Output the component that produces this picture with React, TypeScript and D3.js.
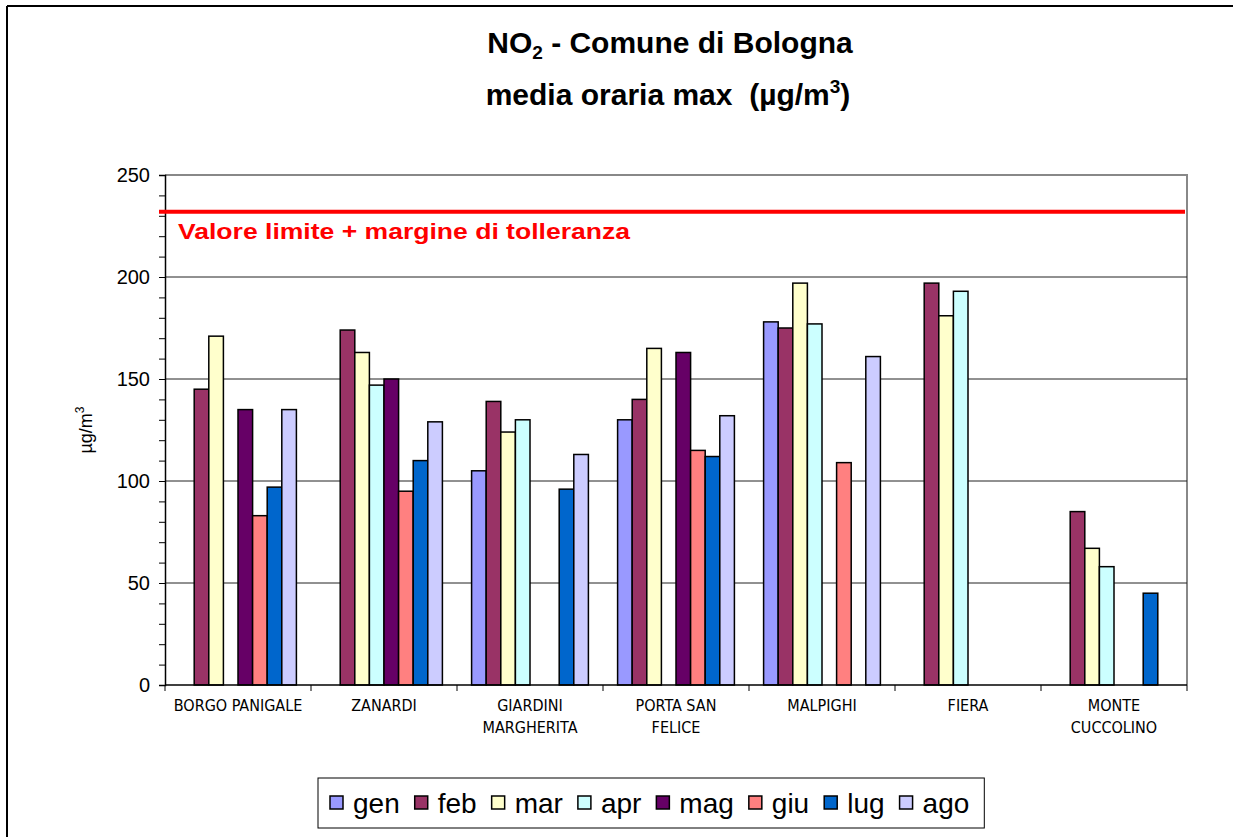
import { useEffect, useRef } from "react"
import * as d3 from "d3"

const stations = ["BORGO PANIGALE", "ZANARDI", "GIARDINI MARGHERITA", "PORTA SAN FELICE", "MALPIGHI", "FIERA", "MONTE CUCCOLINO"]
const stationLines = [["BORGO PANIGALE"], ["ZANARDI"], ["GIARDINI", "MARGHERITA"], ["PORTA SAN", "FELICE"], ["MALPIGHI"], ["FIERA"], ["MONTE", "CUCCOLINO"]]
const months = ["gen", "feb", "mar", "apr", "mag", "giu", "lug", "ago"]
const monthColors = ["#9999FF", "#993366", "#FFFFCC", "#CCFFFF", "#660066", "#FF8080", "#0066CC", "#CCCCFF"]

// one array per month, in station order (null = no data)
const gen = [null, null, 105, 130, 178, null, null]
const feb = [145, 174, 139, 140, 175, 197, 85]
const mar = [171, 163, 124, 165, 197, 181, 67]
const apr = [null, 147, 130, null, 177, 193, 58]
const mag = [135, 150, null, 163, null, null, null]
const giu = [83, 95, null, 115, 109, null, null]
const lug = [97, 110, 96, 112, null, null, 45]
const ago = [135, 129, 113, 132, 161, null, null]

const yTicks = [0, 50, 100, 150, 200, 250]
const limitValue = 232
const limitLabel = "Valore limite + margine di tolleranza"

const FONT = "Arial, 'Liberation Sans', sans-serif"

export default function App() {
  const svgRef = useRef<SVGSVGElement>(null)

  useEffect(() => {
    const svg = d3.select(svgRef.current)
    svg.selectAll("*").remove()

    const series = [gen, feb, mar, apr, mag, giu, lug, ago]
    const left = 165, right = 1187, top = 175, bottom = 685

    // outer frame (top + left only)
    svg.append("line").attr("x1", 7).attr("x2", 1233).attr("y1", 6).attr("y2", 6).attr("stroke", "#000").attr("stroke-width", 2)
    svg.append("line").attr("x1", 7).attr("x2", 7).attr("y1", 6).attr("y2", 837).attr("stroke", "#000").attr("stroke-width", 2)

    // title
    const title = svg.append("text")
      .attr("x", 670).attr("y", 53)
      .attr("text-anchor", "middle")
      .style("font-family", FONT)
      .style("font-weight", "bold")
      .style("font-size", "30px")
    title.append("tspan").text("NO")
    title.append("tspan").attr("dy", 6).style("font-size", "19px").text("2")
    title.append("tspan").attr("dy", -6).text(" - Comune di Bologna")

    const title2 = svg.append("text")
      .attr("x", 668).attr("y", 105)
      .attr("text-anchor", "middle")
      .style("font-family", FONT)
      .style("font-weight", "bold")
      .style("font-size", "30px")
    title2.append("tspan").text("media oraria max\u00a0 (µg/m")
    title2.append("tspan").attr("dy", -12).style("font-size", "19px").text("3")
    title2.append("tspan").attr("dy", 12).text(")")

    const x0 = d3.scaleBand<string>().domain(stations).range([left, right]).padding(0)
    const x1 = d3.scaleBand<string>().domain(months).range([0, x0.bandwidth()]).paddingInner(0).paddingOuter(1)
    const y = d3.scaleLinear().domain([0, 250]).range([bottom, top])

    // plot border (top + right, gray)
    svg.append("path")
      .attr("d", `M${left},${top}H${right}V${bottom}`)
      .attr("fill", "none").attr("stroke", "#888").attr("stroke-width", 2)

    // gridlines
    svg.append("g").selectAll("line")
      .data(yTicks.filter(t => t > 0 && t < 250))
      .join("line")
      .attr("x1", left).attr("x2", right)
      .attr("y1", d => y(d)).attr("y2", d => y(d))
      .attr("stroke", "#222").attr("stroke-width", 1)

    // bars
    series.forEach((vals, si) => {
      svg.append("g").selectAll("rect")
        .data(vals.map((v, i) => ({ v, st: stations[i] })).filter(d => d.v !== null))
        .join("rect")
        .attr("x", d => x0(d.st)! + x1(months[si])!)
        .attr("width", x1.bandwidth())
        .attr("y", d => y(d.v as number))
        .attr("height", d => y(0) - y(d.v as number))
        .attr("fill", monthColors[si])
        .attr("stroke", "#000")
        .attr("stroke-width", 1.5)
    })

    // y axis
    const yAxis = svg.append("g").attr("transform", `translate(${left},0)`)
    yAxis.call(d3.axisLeft(y).tickValues(d3.range(0, 251, 10)).tickSize(6).tickFormat(() => ""))
    yAxis.select(".domain").attr("stroke", "#000").attr("stroke-width", 1.5)
    yAxis.selectAll(".tick line").attr("stroke", "#000")
    svg.append("g").selectAll("text")
      .data(yTicks)
      .join("text")
      .attr("x", 150).attr("y", d => y(d))
      .attr("dy", "0.36em")
      .attr("text-anchor", "end")
      .style("font-family", FONT)
      .style("font-size", "20px")
      .text(d => d)

    const yLab = svg.append("text")
      .attr("transform", "translate(92,430) rotate(-90)")
      .attr("text-anchor", "middle")
      .style("font-family", FONT)
      .style("font-size", "18px")
    yLab.append("tspan").text("µg/m")
    yLab.append("tspan").attr("dy", -8).style("font-size", "12px").text("3")

    // x axis
    svg.append("line").attr("x1", left).attr("x2", right).attr("y1", bottom).attr("y2", bottom).attr("stroke", "#000").attr("stroke-width", 1.5)
    const bounds = stations.map(s => x0(s)!).concat([right])
    svg.append("g").selectAll("line")
      .data(bounds)
      .join("line")
      .attr("x1", d => d).attr("x2", d => d)
      .attr("y1", bottom).attr("y2", bottom + 6)
      .attr("stroke", "#000")
    stationLines.forEach((lines, i) => {
      const cx = x0(stations[i])! + x0.bandwidth() / 2
      svg.append("g").selectAll("text")
        .data(lines)
        .join("text")
        .attr("x", cx).attr("y", (_, j) => 711 + j * 22)
        .attr("text-anchor", "middle")
        .style("font-family", "'Liberation Sans Narrow', 'DejaVu Sans Condensed', Arial, sans-serif")
        .style("font-size", "16px")
        .text(d => d)
    })

    // limit line
    svg.append("line")
      .attr("x1", 159).attr("x2", 1185)
      .attr("y1", y(limitValue)).attr("y2", y(limitValue))
      .attr("stroke", "#FF0000").attr("stroke-width", 4)
    svg.append("text")
      .attr("x", 178).attr("y", 239)
      .attr("fill", "#FF0000")
      .attr("textLength", 452)
      .attr("lengthAdjust", "spacingAndGlyphs")
      .style("font-family", FONT)
      .style("font-weight", "bold")
      .style("font-size", "22px")
      .text(limitLabel)

    // legend
    const legend = svg.append("g")
    const box = legend.append("rect")
      .attr("y", 778).attr("height", 50)
      .attr("fill", "#fff").attr("stroke", "#000").attr("stroke-width", 1)
    let cx = 330
    months.forEach((m, i) => {
      legend.append("rect")
        .attr("x", cx).attr("y", 796).attr("width", 13).attr("height", 13)
        .attr("fill", monthColors[i]).attr("stroke", "#000").attr("stroke-width", 1.5)
      const t = legend.append("text")
        .attr("x", cx + 23).attr("y", 813)
        .style("font-family", FONT)
        .style("font-size", "28px")
        .text(m)
      const w = (t.node() as SVGTextElement).getComputedTextLength()
      cx += 23 + w + 15
    })
    box.attr("x", 318).attr("width", cx - 318)
  }, [])

  return (
    <svg
      ref={svgRef}
      width={1233}
      height={837}
      style={{ position: "absolute", left: 0, top: 0, background: "#fff" }}
    />
  )
}
